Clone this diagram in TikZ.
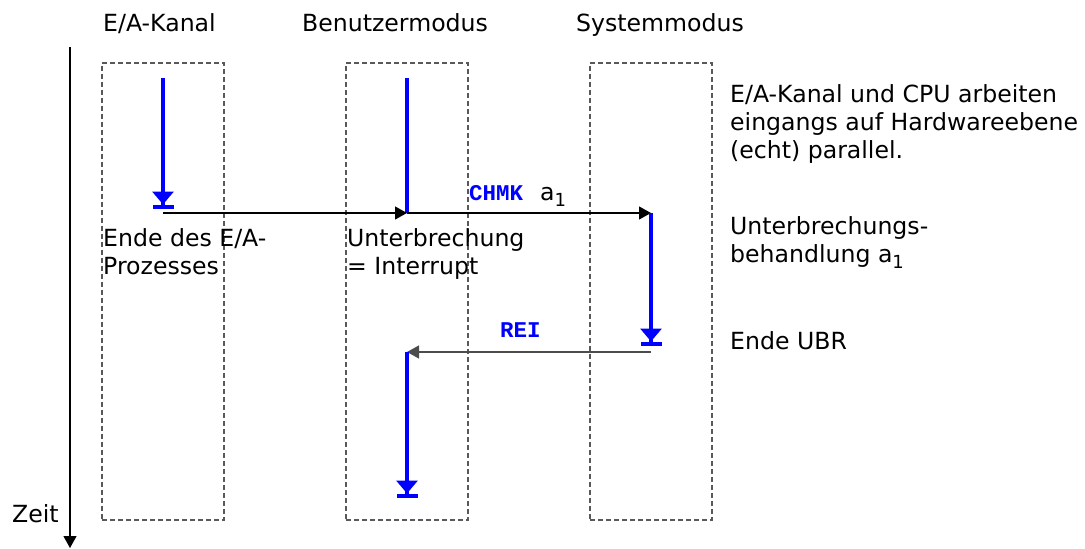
\documentclass[tikz,border=0pt]{standalone}
\usepackage{fontspec}
\setmainfont{DejaVu Sans}
\newfontfamily\codefont{Liberation Mono}
\usetikzlibrary{arrows.meta}

\newcommand{\subidx}[1]{\raisebox{-6pt}{\fontsize{18}{18}\selectfont #1}}

\tikzset{
  modebox/.style={draw=black!65, dash pattern=on 5pt off 3pt, line width=1.1pt, minimum width=122pt, minimum height=457pt, inner sep=0pt},
  activity/.style={draw=blue, line width=4.5pt},
  activityend/.style={activity, -{Triangle[width=21pt,length=13pt,sep=0pt]Bar[width=21pt,sep=0pt]}},
  signal/.style={line width=1.2pt, -{Triangle[width=13pt,length=12pt]}},
  txt/.style={anchor=base west, inner sep=0pt, align=left, font=\fontsize{23.6}{28}\selectfont},
  code/.style={anchor=base west, inner sep=0pt, text=blue, font=\codefont\bfseries\fontsize{22.5}{22.5}\selectfont},
}

\begin{document}
\begin{tikzpicture}[x=1pt,y=-1pt]
    \useasboundingbox (0,0) rectangle (1085,549);

    % columns
    \node[modebox] (io box)   at (163,291.5) {};
    \node[modebox] (user box) at (407,291.5) {};
    \node[modebox] (sys box)  at (651,291.5) {};
    \node[txt] (io title)   at (103,31) {E/A-Kanal};
    \node[txt] (user title) at (302,31) {Benutzermodus};
    \node[txt] (sys title)  at (576,31) {Systemmodus};

    % time axis
    \coordinate (time top) at (70,47);
    \coordinate (time end) at (70,548);
    \draw[line width=1.1pt, -{Triangle[width=13pt,length=12pt]}] (time top) -- (time end);
    \node[txt] (zeit) at (12,522) {Zeit};

    % points of the run
    \coordinate (io top)    at (163,78);
    \coordinate (io end)    at (163,209);
    \coordinate (io send)   at (163,213);
    \coordinate (user top)  at (407,78);
    \coordinate (irq)       at (407,213);
    \coordinate (sys start) at (651,213);
    \coordinate (sys end)   at (651,346);
    \coordinate (rei start) at (651,352);
    \coordinate (ret)       at (407,352);
    \coordinate (user end)  at (407,498);

    \draw[activityend] (io top) -- (io end);
    \draw[activity] (user top) -- (irq);
    \draw[signal] (io send) -- (irq);
    \draw[signal] (irq) -- (sys start);
    \draw[activityend] (sys start) -- (sys end);
    \draw[signal, draw=black!70] (rei start) -- (ret);
    \draw[activityend] (ret) -- (user end);

    \node[code] (chmk) at (469,200) {CHMK};
    \node[txt] (chmk arg) at (540,200) {a\subidx{1}};
    \node[code] (rei) at (500,337) {REI};

    % comments (base = last line)
    \node[txt] (io done) at (103,274) {Ende des E/A-\\Prozesses};
    \node[txt] (irq note) at (347,274) {Unterbrechung\\= Interrupt};
    \node[txt] (par note) at (730,158) {E/A-Kanal und CPU arbeiten\\eingangs auf Hardwareebene\\(echt) parallel.};
    \node[txt] (ubr note) at (730,262) {Unterbrechungs-\\behandlung a\subidx{1}};
    \node[txt] (ubr done) at (730,349) {Ende UBR};
\end{tikzpicture}
\end{document}
